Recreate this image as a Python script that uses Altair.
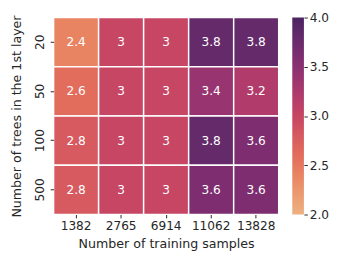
import altair as alt
import pandas as pd

samples = ["1382", "2765", "6914", "11062", "13828"]
trees = ["20", "50", "100", "500"]
values = [
    [2.4, 3, 3, 3.8, 3.8],
    [2.6, 3, 3, 3.4, 3.2],
    [2.8, 3, 3, 3.8, 3.6],
    [2.8, 3, 3, 3.6, 3.6],
]
cbar_ticks = [2.0, 2.5, 3.0, 3.5, 4.0]
flare_domain = [2.0, 2.2, 2.4, 2.6, 2.8, 3.0, 3.2, 3.4, 3.6, 3.8, 4.0]
flare_range = ["#edb081", "#eb9c70", "#e88462", "#e26d5c", "#d65a5f", "#c64664",
               "#b13c6b", "#983470", "#7e2d70", "#652a6a", "#4b2362"]

rows = []
for t, rv in zip(trees, values):
    for s, v in zip(samples, rv):
        rows.append({"samples": s, "trees": t, "value": v,
                     "label": ("%g" % v)})
df = pd.DataFrame(rows)

FONT = "DejaVu Sans"
TXT = "#262626"

x = alt.X("samples:N", sort=samples, title="Number of training samples",
          scale=alt.Scale(paddingInner=0, paddingOuter=0),
          axis=alt.Axis(labelAngle=0, labelFontSize=12.5, titleFontSize=13,
                        tickSize=3.5, labelPadding=2, titlePadding=6,
                        domain=False, tickColor=TXT, labelColor=TXT, titleColor=TXT,
                        labelFont=FONT, titleFont=FONT, titleFontWeight="normal"))
y = alt.Y("trees:N", sort=trees, title="Number of trees in the 1st layer",
          scale=alt.Scale(paddingInner=0, paddingOuter=0),
          axis=alt.Axis(labelAngle=270, labelAlign="center", labelBaseline="bottom",
                        labelFontSize=12.5, titleFontSize=13, tickSize=3.5,
                        labelPadding=4, titlePadding=11, domain=False,
                        tickColor=TXT, labelColor=TXT, titleColor=TXT,
                        labelFont=FONT, titleFont=FONT, titleFontWeight="normal"))

color_scale = alt.Scale(domain=flare_domain, range=flare_range, interpolate="rgb")

rect = alt.Chart(df).mark_rect(stroke="white", strokeWidth=1.5).encode(
    x=x, y=y,
    color=alt.Color("value:Q", scale=color_scale, legend=None),
)
text = alt.Chart(df).mark_text(color="white", fontSize=12.5, font=FONT).encode(
    x=alt.X("samples:N", sort=samples), y=alt.Y("trees:N", sort=trees),
    text="label:N",
)
heat = (rect + text).properties(width=232, height=203)

lo, hi = flare_domain[0], flare_domain[-1]
stops = [alt.GradientStop(offset=(d - lo) / (hi - lo), color=c)
         for d, c in zip(flare_domain, flare_range)]
cbar = alt.Chart(pd.DataFrame({"lo": [lo], "hi": [hi]})).mark_rect(
    color=alt.LinearGradient(gradient="linear", x1=0, y1=1, x2=0, y2=0, stops=stops)
).encode(
    x=alt.value(0), x2=alt.value(12),
    y=alt.Y("lo:Q", scale=alt.Scale(domain=[lo, hi], nice=False, zero=False),
            axis=alt.Axis(orient="right", values=cbar_ticks, format=".1f",
                          title=None, grid=False, domain=False, tickSize=3.5,
                          tickColor=TXT, labelColor=TXT, labelFontSize=12.5,
                          labelFont=FONT, labelPadding=2, labelFlush=False)),
    y2="hi:Q",
).properties(width=12, height=203)

chart = alt.hconcat(heat, cbar, spacing=13).properties(
    padding={"left": 2, "top": 0, "right": 5, "bottom": 5},
).configure_view(stroke=None)

chart.save("out.html", embed_options={"renderer": "svg", "actions": False})
